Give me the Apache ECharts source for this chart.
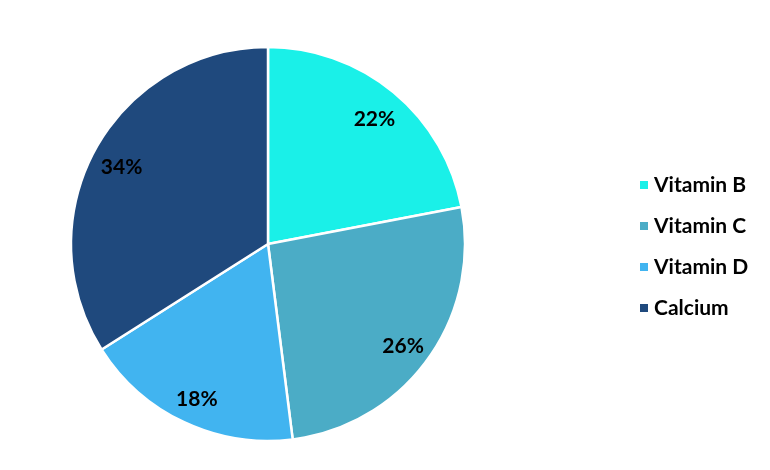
<!DOCTYPE html>
<html><head><meta charset="utf-8">
<script src="https://cdn.jsdelivr.net/npm/echarts@6/dist/echarts.min.js"></script>
<style>html,body{margin:0;padding:0;background:#fff}#c{width:770px;height:470px}</style>
</head><body><div id="c"></div>
<script>
const categories = ['Vitamin B', 'Vitamin C', 'Vitamin D', 'Calcium'];
const values = [22, 26, 18, 34];
const colors = ['#1AF0E8', '#4BACC6', '#41B4F0', '#1F497D'];

const data = categories.map((n, i) => ({ name: n, value: values[i] }));
const chart = echarts.init(document.getElementById('c'), null, { renderer: 'canvas' });
chart.setOption({
  animation: false,
  color: colors,
  legend: {
    orient: 'vertical', left: 633, top: 169,
    icon: 'rect', itemWidth: 10, itemHeight: 10, itemGap: 19,
    textStyle: { fontFamily: 'Lato', fontWeight: 'bold', fontSize: 21, color: '#000', lineHeight: 22 },
    data: categories
  },
  series: [
    {
      type: 'pie', center: [268, 244], radius: [0, 197], startAngle: 90, clockwise: true,
      itemStyle: { borderColor: '#fff', borderWidth: 2.5 },
      label: { show: false }, labelLine: { show: false },
      emphasis: { disabled: true },
      data: data
    },
    {
      type: 'pie', center: [268, 248], radius: [131, 197], startAngle: 90, clockwise: true,
      silent: true, legendHoverLink: false,
      itemStyle: { color: 'rgba(0,0,0,0)', borderWidth: 0 },
      label: { show: true, position: 'inside', formatter: p => p.value + '%',
        fontFamily: 'Lato', fontWeight: 'bold', fontSize: 21, color: '#000' },
      labelLine: { show: false },
      emphasis: { disabled: true },
      data: data
    }
  ]
});
</script></body></html>
